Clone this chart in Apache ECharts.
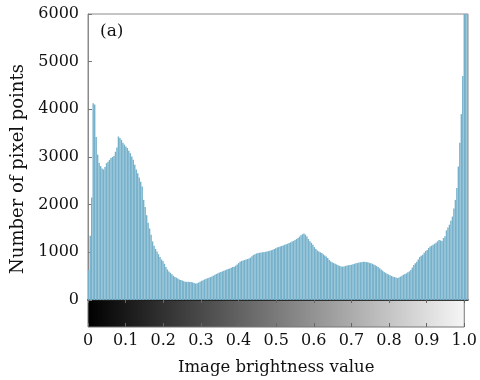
<!DOCTYPE html>
<html>
<head>
<meta charset="utf-8">
<script src="https://cdn.jsdelivr.net/npm/echarts@6/dist/echarts.min.js"></script>
<style>html,body{margin:0;padding:0;background:#fff}#c{width:480px;height:380px}</style>
</head>
<body>
<div id="c"></div>
<script>
// Histogram of image brightness (256 bins from 0 to 1)
const binCount = 256;
const categories = Array.from({length: binCount}, (_, i) => (i / (binCount - 1)).toFixed(4));
const pixelCounts = [
  630, 1350, 2150, 4130, 4100, 3420, 3050, 2880, 2810, 2760,
  2740, 2790, 2870, 2900, 2940, 2980, 3000, 3020, 3110, 3200,
  3430, 3400, 3360, 3300, 3260, 3220, 3190, 3130, 3080, 3010,
  2940, 2840, 2740, 2660, 2570, 2480, 2380, 2100, 1950, 1780,
  1620, 1500, 1370, 1230, 1140, 1070, 1020, 960, 900, 850,
  820, 760, 690, 640, 600, 570, 540, 510, 480, 470,
  450, 430, 420, 410, 395, 385, 380, 385, 375, 380,
  370, 355, 345, 350, 365, 385, 400, 415, 430, 445,
  455, 465, 480, 495, 510, 530, 545, 560, 575, 590,
  600, 615, 625, 640, 650, 660, 675, 690, 700, 720,
  745, 775, 800, 820, 830, 840, 850, 860, 870, 890,
  920, 945, 960, 975, 985, 990, 995, 1000, 1005, 1010,
  1015, 1025, 1035, 1045, 1055, 1070, 1085, 1100, 1110, 1120,
  1135, 1145, 1160, 1170, 1180, 1195, 1210, 1225, 1240, 1260,
  1280, 1300, 1330, 1360, 1380, 1395, 1370, 1330, 1280, 1230,
  1200, 1160, 1110, 1070, 1040, 1020, 1000, 985, 960, 935,
  915, 880, 840, 810, 790, 775, 760, 745, 730, 715,
  705, 700, 705, 715, 725, 730, 735, 740, 750, 760,
  770, 775, 785, 790, 795, 800, 800, 795, 790, 780,
  770, 760, 745, 730, 710, 690, 665, 640, 615, 590,
  570, 550, 535, 520, 505, 490, 480, 470, 460, 470,
  490, 510, 530, 545, 560, 580, 600, 630, 680, 735,
  770, 800, 850, 900, 930, 950, 990, 1030, 1050, 1090,
  1120, 1140, 1160, 1180, 1200, 1230, 1260, 1250, 1240, 1300,
  1340, 1460, 1520, 1580, 1660, 1750, 1920, 2100, 2350, 2800,
  3300, 3900, 4700, 6800, 9000, 14000
];
const yTicks = [0, 1000, 2000, 3000, 4000, 5000, 6000];
const xTickLabels = ['0', '0.1', '0.2', '0.3', '0.4', '0.5', '0.6', '0.7', '0.8', '0.9', '1.0'];

const FONT = 'DejaVu Serif';
const chart = echarts.init(document.getElementById('c'), null, {renderer: 'canvas'});
chart.setOption({
  animation: false,
  backgroundColor: '#fff',
  title: {
    text: '(a)', left: 95, top: 18,
    textStyle: {fontFamily: FONT, fontSize: 17, fontWeight: 'normal', color: '#111'}
  },
  grid: [
    {left: 88, right: 12, top: 14, height: 286, show: true, borderColor: '#8a8a8a', borderWidth: 1, backgroundColor: '#fff'},
    {left: 88, right: 12, top: 300, height: 27, show: true, borderColor: '#777', borderWidth: 1,
     backgroundColor: {type: 'linear', x: 0, y: 0, x2: 1, y2: 0,
       colorStops: [{offset: 0, color: '#000'}, {offset: 0.5, color: '#7a7a7a'}, {offset: 1, color: '#f6f6f6'}]}}
  ],
  xAxis: [
    {gridIndex: 0, type: 'category', data: categories, boundaryGap: true,
     axisLine: {show: true, lineStyle: {color: '#111', width: 1.5}},
     axisTick: {show: false}, axisLabel: {show: false}, splitLine: {show: false}},
    {gridIndex: 1, type: 'value', min: 0, max: 1, interval: 0.1, position: 'bottom',
     axisLine: {show: false},
     axisTick: {show: true, inside: true, length: 4, lineStyle: {color: '#666'}},
     axisLabel: {margin: 6, fontFamily: FONT, fontSize: 16, color: '#111',
       formatter: v => xTickLabels[Math.round(v * 10)]},
     splitLine: {show: false},
     name: 'Image brightness value', nameLocation: 'middle', nameGap: 32,
     nameTextStyle: {fontFamily: FONT, fontSize: 16.5, color: '#111'}},
    {gridIndex: 1, type: 'value', min: 0, max: 1, interval: 0.1, position: 'top',
     axisLine: {show: false},
     axisTick: {show: true, inside: true, length: 3, lineStyle: {color: '#666'}},
     axisLabel: {show: false}, splitLine: {show: false}}
  ],
  yAxis: [
    {gridIndex: 0, type: 'value', min: yTicks[0], max: yTicks[yTicks.length - 1], interval: 1000,
     axisLine: {show: true, lineStyle: {color: '#8a8a8a'}},
     axisTick: {show: true, inside: true, length: 4, lineStyle: {color: '#777'}},
     axisLabel: {margin: 9, fontFamily: FONT, fontSize: 16, color: '#111', formatter: v => String(v)},
     splitLine: {show: false},
     name: 'Number of pixel points', nameLocation: 'middle', nameGap: 61,
     nameTextStyle: {fontFamily: FONT, fontSize: 18, color: '#111', padding: [0, 24, 0, 0]}},
    {gridIndex: 1, type: 'value', min: 0, max: 1, show: false}
  ],
  series: [
    {type: 'bar', xAxisIndex: 0, yAxisIndex: 0, data: pixelCounts, clip: true,
     barCategoryGap: '4%',
     itemStyle: {color: '#76b1cb'}}
  ]
});
</script>
</body>
</html>
